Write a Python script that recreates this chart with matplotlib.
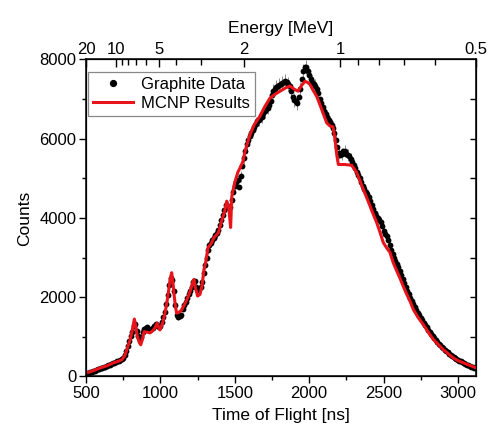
import numpy as np
import matplotlib.pyplot as plt
from matplotlib.lines import Line2D

plt.rcParams['font.family'] = ['Liberation Sans', 'DejaVu Sans']

# measured spectrum: 10 ns bins from 500 ns to 3120 ns
tof_start, tof_step = 500, 10
graphite_counts = [
    60, 80, 90, 110, 120, 140, 150, 170, 180, 200,
    210, 220, 240, 250, 270, 280, 300, 320, 340, 350,
    370, 380, 400, 410, 440, 470, 530, 640, 760, 900,
    1020, 1130, 1270, 1330, 1150, 1020, 950, 1000, 1120, 1190,
    1220, 1240, 1200, 1180, 1210, 1230, 1270, 1320, 1310, 1260,
    1280, 1380, 1500, 1640, 1830, 2050, 2300, 2480, 2430, 2150,
    1800, 1560, 1500, 1530, 1560, 1700, 1800, 1880, 1990, 2080,
    2150, 2260, 2380, 2400, 2260, 2180, 2210, 2250, 2380, 2600,
    2820, 3000, 3200, 3330, 3380, 3450, 3500, 3560, 3620, 3700,
    3830, 3950, 4080, 4200, 4320, 4300, 4250, 4280, 4450, 4650,
    4800, 4900, 4950, 4780, 5050, 5300, 5520, 5700, 5860, 5980,
    6060, 6150, 6230, 6300, 6380, 6450, 6480, 6520, 6560, 6640,
    6700, 6760, 6780, 6850, 6960, 7100, 7200, 7260, 7300, 7340,
    7350, 7380, 7400, 7440, 7450, 7420, 7380, 7330, 7200, 7050,
    6980, 6950, 6900, 7050, 7250, 7500, 7700, 7800, 7820, 7700,
    7620, 7500, 7430, 7380, 7330, 7250, 7150, 7000, 6900, 6800,
    6700, 6620, 6560, 6480, 6420, 6350, 6280, 6150, 5980, 5800,
    5650, 5580, 5620, 5700, 5680, 5620, 5600, 5560, 5500, 5420,
    5330, 5250, 5150, 5080, 5000, 4900, 4800, 4720, 4660, 4600,
    4520, 4420, 4320, 4220, 4130, 4060, 4000, 3960, 3900, 3800,
    3680, 3600, 3540, 3450, 3330, 3200, 3100, 3000, 2920, 2840,
    2760, 2660, 2560, 2460, 2360, 2260, 2170, 2080, 1990, 1900,
    1820, 1750, 1680, 1610, 1540, 1480, 1420, 1360, 1300, 1240,
    1180, 1120, 1070, 1010, 960, 920, 870, 830, 790, 750,
    710, 680, 640, 610, 580, 550, 520, 500, 470, 450,
    420, 400, 380, 360, 340, 320, 300, 290, 270, 250,
    240, 220, 210,
]
graphite_err = [
    16, 18, 19, 21, 22, 24, 25, 26, 27, 28,
    29, 30, 31, 32, 33, 34, 35, 36, 37, 38,
    38, 39, 40, 41, 42, 43, 46, 51, 55, 60,
    64, 67, 71, 73, 68, 64, 62, 63, 67, 69,
    70, 71, 70, 69, 70, 70, 71, 73, 72, 71,
    72, 74, 78, 81, 86, 91, 96, 100, 99, 93,
    85, 79, 78, 79, 79, 83, 85, 87, 89, 91,
    93, 95, 98, 98, 95, 93, 94, 95, 98, 102,
    106, 110, 113, 115, 116, 117, 118, 119, 120, 122,
    124, 126, 128, 130, 131, 131, 130, 131, 133, 136,
    139, 140, 141, 138, 142, 146, 149, 151, 153, 155,
    156, 157, 158, 159, 160, 161, 161, 162, 162, 163,
    164, 164, 165, 166, 167, 169, 170, 170, 171, 171,
    171, 172, 172, 172, 173, 172, 172, 171, 170, 168,
    167, 167, 166, 168, 170, 173, 175, 177, 177, 175,
    175, 173, 172, 172, 171, 170, 169, 167, 166, 165,
    164, 163, 162, 161, 160, 159, 158, 157, 155, 152,
    150, 149, 150, 151, 151, 150, 150, 149, 148, 147,
    146, 145, 144, 143, 141, 140, 139, 137, 136, 136,
    134, 133, 131, 130, 129, 127, 126, 126, 125, 123,
    121, 120, 119, 117, 115, 113, 111, 110, 108, 107,
    105, 103, 101, 99, 97, 95, 93, 91, 89, 87,
    85, 84, 82, 80, 78, 77, 75, 74, 72, 70,
    69, 67, 65, 64, 62, 61, 59, 58, 56, 55,
    53, 52, 51, 49, 48, 47, 46, 45, 43, 42,
    41, 40, 39, 38, 37, 36, 35, 34, 33, 32,
    31, 30, 29,
]
graphite_tof = tof_start + tof_step * np.arange(len(graphite_counts))

# MCNP simulation
mcnp_tof = [
    500, 520, 550, 594, 640, 681, 720, 740, 760, 774, 785, 796, 810, 825,
    835, 845, 858, 868, 880, 890, 910, 930, 950, 964, 979, 990, 997, 1015,
    1031, 1045, 1053, 1065, 1076, 1085, 1091, 1100, 1109, 1125, 1143, 1160,
    1177, 1200, 1215, 1225, 1235, 1250, 1266, 1280, 1293, 1305, 1320, 1340,
    1360, 1390, 1410, 1430, 1446, 1458, 1466, 1472, 1480, 1500, 1520, 1540,
    1555, 1570, 1590, 1602, 1630, 1669, 1700, 1737, 1770, 1804, 1840, 1871,
    1900, 1925, 1950, 1972, 1990, 2005, 2030, 2050, 2068, 2084, 2100, 2118,
    2140, 2160, 2173, 2185, 2196, 2240, 2286, 2300, 2319, 2340, 2364, 2390,
    2409, 2430, 2454, 2475, 2498, 2520, 2543, 2565, 2590, 2610, 2632, 2655,
    2680, 2700, 2730, 2767, 2800, 2834, 2870, 2901, 2935, 2968, 3000, 3036,
    3080, 3121,
]
mcnp_counts = [
    90, 110, 150, 215, 270, 340, 390, 420, 520, 670, 800, 920, 1150, 1450,
    1250, 1010, 860, 800, 950, 1130, 1120, 1100, 1160, 1230, 1350, 1220, 1175, 1350,
    1600, 1900, 2100, 2450, 2620, 2350, 2100, 1800, 1600, 1620, 1680, 1800,
    1930, 2150, 2350, 2450, 2250, 2030, 2070, 2300, 2700, 2900, 3250, 3350,
    3500, 3630, 3900, 4150, 4425, 4300, 4000, 3760, 4550, 4900, 5150, 5300,
    5430, 5700, 5950, 6100, 6350, 6570, 6800, 7030, 7120, 7200, 7280, 7330,
    7250, 7200, 7350, 7450, 7420, 7370, 7200, 7070, 6900, 6740, 6580, 6400,
    6320, 6300, 6000, 5600, 5350, 5350, 5330, 5250, 5150, 4950, 4720, 4480,
    4300, 4100, 3880, 3650, 3380, 3250, 3130, 2870, 2650, 2480, 2280, 2080,
    1880, 1690, 1500, 1310, 1120, 935, 800, 680, 570, 470, 400, 345,
    280, 220,
]

# top axis: neutron energy for the flight path
energy_major = [20, 10, 5, 2, 1, 0.5]
energy_labels = ['20', '10', '5', '2', '1', '0.5']
energy_minor = [9, 8, 7, 6, 4, 3, 0.9, 0.8, 0.7, 0.6]
flight_path_m = 30.5
mn_mev = 939.565
c_light = 2.99792458e8


def energy_to_tof(e_mev):
    gamma = 1.0 + np.asarray(e_mev, dtype=float) / mn_mev
    beta = np.sqrt(1.0 - 1.0 / gamma**2)
    return flight_path_m / (beta * c_light) * 1e9


fig = plt.figure(figsize=(4.9, 4.33), dpi=100)
ax = fig.add_axes([0.1755, 0.1305, 0.7959, 0.7321])

ax.errorbar(graphite_tof, graphite_counts, yerr=graphite_err, fmt='o',
            color='black', markersize=4.2, markeredgewidth=0,
            ecolor='#8c8c8c', elinewidth=0.7, capsize=2.5, capthick=0.7,
            errorevery=2, zorder=2)
ax.plot(mcnp_tof, mcnp_counts, color='#e8141b', linewidth=2.2, zorder=3)

ax.set_xlim(500, 3121)
ax.set_ylim(0, 8000)
ax.set_xticks([500, 1000, 1500, 2000, 2500, 3000])
ax.set_xticks(np.arange(750, 3100, 500), minor=True)
ax.set_yticks([0, 2000, 4000, 6000, 8000])
ax.set_yticks([1000, 3000, 5000, 7000], minor=True)
ax.tick_params(axis='both', which='major', direction='out', length=5,
               width=1, labelsize=12, pad=2)
ax.tick_params(axis='both', which='minor', direction='out', length=3, width=1)
ax.set_xlabel('Time of Flight [ns]', fontsize=12.5, labelpad=5)
ax.set_ylabel('Counts', fontsize=12.5, labelpad=5)
for s in ax.spines.values():
    s.set_linewidth(1.1)

# inward ticks on the right spine
ax_r = ax.twinx()
ax_r.set_ylim(0, 8000)
ax_r.set_yticks([1000, 2000, 3000, 4000, 5000, 6000, 7000])
ax_r.tick_params(axis='y', direction='in', length=4, width=1, labelright=False)

ax_top = ax.twiny()
ax_top.set_xlim(ax.get_xlim())
ax_top.set_xticks(energy_to_tof(energy_major))
ax_top.set_xticklabels(energy_labels)
ax_top.set_xticks(energy_to_tof(energy_minor), minor=True)
ax_top.tick_params(axis='x', which='major', direction='in', length=6,
                   width=1, labelsize=12, pad=2)
ax_top.tick_params(axis='x', which='minor', direction='in', length=4, width=1)
ax_top.set_xlabel('Energy [MeV]', fontsize=12.5, labelpad=6)

handles = [
    Line2D([], [], linestyle='none', marker='o', color='black', markersize=4.2),
    Line2D([], [], color='#e8141b', linewidth=2.2),
]
leg = ax_top.legend(handles, ['Graphite Data', 'MCNP Results'],
                    loc='upper left', bbox_to_anchor=(0.005, 0.96),
                    fontsize=12, frameon=True, fancybox=False, framealpha=1,
                    handlelength=2.4, handletextpad=0.5, borderpad=0.3,
                    labelspacing=0.2, borderaxespad=0)
leg.get_frame().set_edgecolor('#888888')
leg.get_frame().set_linewidth(0.9)

fig.savefig('out.png', dpi=100)
